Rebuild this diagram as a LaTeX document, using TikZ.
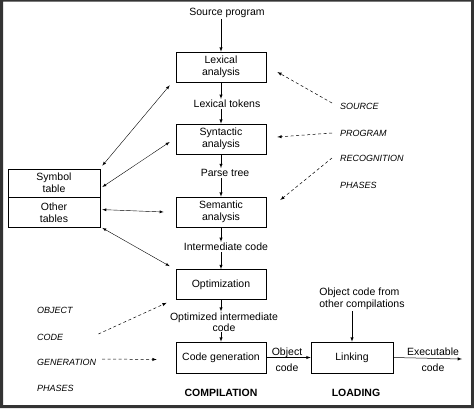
\documentclass[tikz,border=0pt]{standalone}
\usepackage{fontspec}
\setmainfont{Liberation Sans}
\usetikzlibrary{arrows}

\begin{document}
\begin{tikzpicture}[x=1pt,y=-1pt,
	box/.style={draw, line width=0.6pt, minimum width=90pt, minimum height=30pt, align=center, inner sep=1pt, font=\fontsize{10.5}{12}\selectfont},
	lbl/.style={inner sep=1pt, align=center, font=\fontsize{10.5}{12}\selectfont},
	phase/.style={anchor=west, inner sep=0pt, font=\fontsize{9}{11}\selectfont\itshape},
	flow/.style={-latex, line width=0.5pt},
	both/.style={latex-latex, line width=0.4pt},
	hint/.style={-latex, line width=0.5pt, dash pattern=on 3pt off 2.5pt}]
	% frame
	\fill[black!80, even odd rule] (0,0) rectangle (474,408) (3,1.5) rectangle (471,405);
	\useasboundingbox (0,0) rectangle (474,408);
	% compiler chain
	\node[lbl] (src) at (227,13) {Source program};
	\node[box] (lex) at (221,67) {Lexical\\analysis};
	\node[lbl] (tok) at (227,104) {Lexical tokens};
	\node[box] (syn) at (221,139) {Syntactic\\analysis};
	\node[lbl] (tree) at (225,173) {Parse tree};
	\node[box] (sem) at (221,212) {Semantic\\analysis};
	\node[lbl] (inter) at (226,247) {Intermediate code};
	\node[box] (opt) at (221,284.5) {Optimization};
	\node[lbl, font=\fontsize{10.5}{9}\selectfont] (optcode) at (224,322) {Optimized intermediate\\code};
	\node[box, minimum height=31pt] (gen) at (221,357.5) {Code generation};
	\node[box, minimum width=82pt, minimum height=31pt] (link) at (352,357.5) {Linking};
	\node[lbl, align=left] (other) at (362,299) {Object code from\\other compilations};
	\node[lbl] (objcode) at (287,360) {Object\\[4pt]code};
	\node[lbl] (exe) at (433,360) {Executable\\[4pt]code};
	\coordinate (exeend) at (462,359);
	\node[lbl, font=\fontsize{10.5}{12}\selectfont\bfseries] (comp) at (221,393) {COMPILATION};
	\node[lbl, font=\fontsize{10.5}{12}\selectfont\bfseries] (load) at (356,393) {LOADING};
	% tables
	\node[box, minimum width=92pt, minimum height=28pt] (sym) at (54,183) {Symbol\\table};
	\node[box, minimum width=92pt, minimum height=30pt, anchor=north] (tabs) at (sym.south) {Other\\tables};
	% phase labels
	\node[phase] (srcl) at (340,106) {SOURCE};
	\node[phase] (progl) at (340,133) {PROGRAM};
	\node[phase] (recl) at (340,158) {RECOGNITION};
	\node[phase] (phl) at (340,185) {PHASES};
	\node[phase] (objl) at (37,310) {OBJECT};
	\node[phase] (codel) at (37,337) {CODE};
	\node[phase] (genl) at (37,362) {GENERATION};
	\node[phase] (phl2) at (37,388) {PHASES};
	% flow arrows
	\draw[flow] (lex.north |- src.south) -- (lex.north);
	\draw[flow] (lex.south) -- (lex.south |- tok.north);
	\draw[flow] (syn.north |- tok.south) -- (syn.north);
	\draw[flow] (syn.south) -- (syn.south |- tree.north);
	\draw[flow] (sem.north |- tree.south) -- (sem.north);
	\draw[flow] (sem.south) -- (sem.south |- inter.north);
	\draw[flow] (opt.north |- inter.south) -- (opt.north);
	\draw[flow] (opt.south) -- (opt.south |- optcode.north);
	\draw[flow] (gen.north |- optcode.south) -- (gen.north);
	\draw[flow] (gen.east) -- (link.west);
	\draw[flow] (link.east) -- (exeend);
	\draw[flow] (link.north |- other.south) -- (link.north);
	% table access
	\draw[both] ([shift={(2,-3)}]sym.north east) -- ([shift={(-6,3)}]lex.south west);
	\draw[both] ([shift={(2,4)}]sym.east) -- ([shift={(-6,3)}]syn.west);
	\draw[both] ([shift={(2,-3)}]tabs.east) -- ([shift={(-12,0)}]sem.west);
	\draw[both] ([shift={(2,0)}]tabs.south east) -- ([shift={(-6,-3)}]opt.north west);
	% phase hints
	\draw[hint] ([shift={(-8,-3)}]srcl.west) -- ([shift={(11,5)}]lex.east);
	\draw[hint] ([shift={(-8,0)}]progl.west) -- ([shift={(11,-2)}]syn.east);
	\draw[hint] ([shift={(-8,0)}]recl.west) -- ([shift={(14,-12)}]sem.east);
	\draw[hint] ([shift={(35,-3)}]codel.east) -- ([shift={(-9,3)}]opt.south west);
	\draw[hint] ([shift={(6,-3)}]genl.east) -- ([shift={(-19,2)}]gen.west);
\end{tikzpicture}
\end{document}
